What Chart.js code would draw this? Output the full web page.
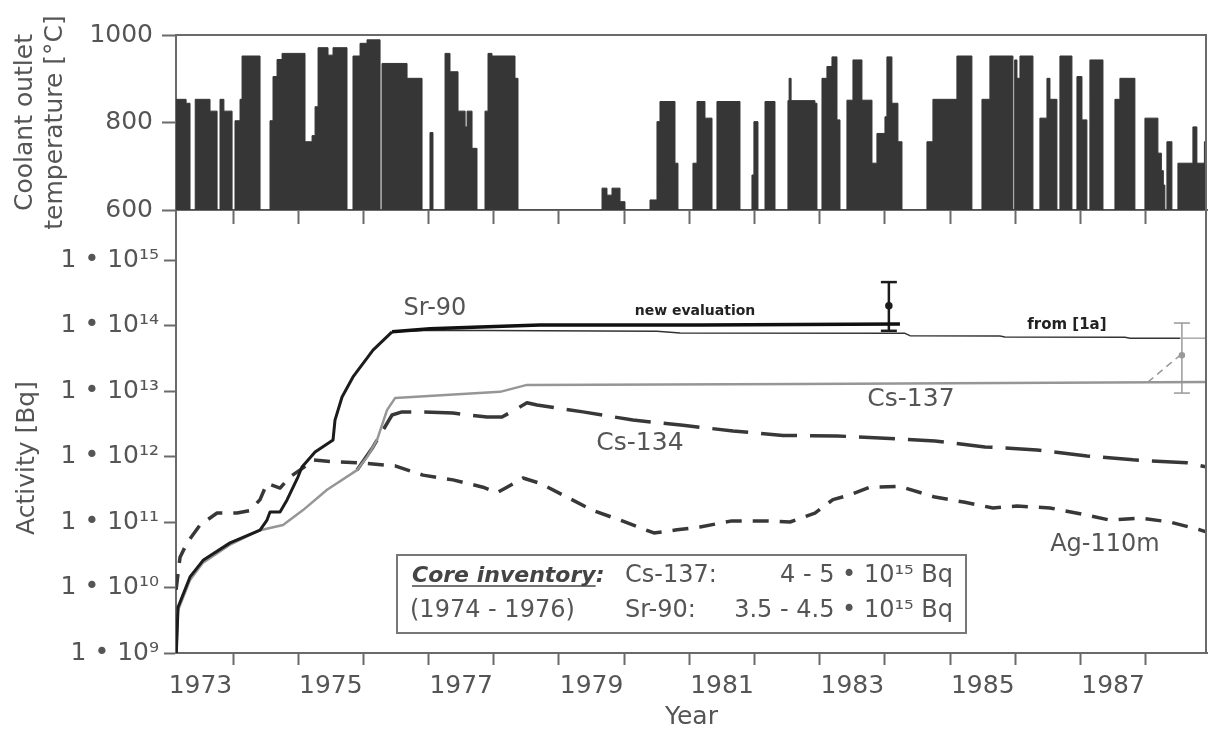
<!DOCTYPE html>
<html><head><meta charset="utf-8">
<script src="https://cdn.jsdelivr.net/npm/chart.js@4.4.0/dist/chart.umd.min.js"></script>
<style>
html,body{margin:0;padding:0;background:#fff;overflow:hidden}
#wrap{position:relative;width:1209px;height:733px}
canvas{position:absolute;left:0;top:0}
</style></head>
<body><div id="wrap"><canvas id="cBottom" width="1209" height="733"></canvas><canvas id="cTop" width="1209" height="733"></canvas></div>
<script>
// ---------- data ----------
const tempYears = [1973.125,1973.28,1973.34,1973.42,1973.647,1973.755,1973.80,1973.86,1973.985,1974.03,1974.107,1974.138,1974.414,1974.567,1974.613,1974.675,1974.752,1975.104,1975.212,1975.258,1975.304,1975.457,1975.534,1975.748,1975.840,1975.948,1976.055,1976.255,1976.285,1976.669,1976.899,1977.021,1977.067,1977.252,1977.328,1977.451,1977.56,1977.59,1977.666,1977.742,1977.865,1977.911,1977.972,1978.325,1978.371,1979.660,1979.736,1979.813,1979.936,1980.012,1980.396,1980.503,1980.549,1980.779,1980.825,1981.055,1981.117,1981.239,1981.347,1981.423,1981.776,1981.960,1981.99,1982.052,1982.160,1982.313,1982.512,1982.53,1982.56,1982.926,1982.957,1983.034,1983.110,1983.187,1983.264,1983.310,1983.417,1983.509,1983.647,1983.801,1983.877,1984.000,1984.03,1984.107,1984.199,1984.261,1984.644,1984.736,1985.104,1985.334,1985.488,1985.610,1985.963,1985.99,1986.025,1986.071,1986.270,1986.377,1986.485,1986.531,1986.638,1986.684,1986.868,1986.945,1987.022,1987.098,1987.144,1987.344,1987.528,1987.604,1987.834,1987.988,1988.187,1988.24,1988.27,1988.294,1988.325,1988.402,1988.494,1988.724,1988.785,1988.90,1988.94];
const tempValues = [853,844,600,853,826,600,853,826,600,804,853,952,600,804,905,944,958,756,770,836,971,954,971,600,952,981,989,600,935,901,600,777,600,958,916,826,790,826,741,600,826,958,952,901,600,650,634,650,619,600,623,802,848,707,600,707,848,810,600,848,600,680,802,600,848,600,850,901,850,844,600,901,928,950,806,600,851,943,851,707,775,813,950,844,756,600,756,853,952,600,853,952,600,943,901,952,600,810,901,853,600,952,600,905,806,600,943,600,853,901,600,810,730,690,657,600,756,600,707,790,707,756,756];

const sr90Years  = [1973.13,1973.156,1973.340,1973.540,1973.954,1974.414,1974.521,1974.567,1974.721,1974.828,1974.997,1975.058,1975.258,1975.534,1975.564,1975.672,1975.840,1976.147,1976.439];
const sr90Values = [1.0e9,5.0e9,1.45e10,2.6e10,4.8e10,7.5e10,1.07e11,1.42e11,1.42e11,2.17e11,4.9e11,6.9e11,1.17e12,1.79e12,3.6e12,8.1e12,1.64e13,4.2e13,8.0e13];

const sr90NewEvalYears  = [1976.439,1977.021,1977.788,1978.709,1981.163,1984.230];
const sr90NewEvalValues = [8.0e13,8.9e13,9.5e13,1.02e14,1.02e14,1.05e14];

const sr90Ref1aYears  = [1976.439,1977.021,1980.503,1980.856,1984.307,1984.383,1985.764,1985.84,1987.681,1987.76,1988.525];
const sr90Ref1aValues = [8.0e13,8.5e13,8.2e13,7.7e13,7.6e13,7.0e13,6.9e13,6.7e13,6.6e13,6.4e13,6.4e13];
const sr90ExtYears  = [1988.525,1988.94];
const sr90ExtValues = [6.4e13,6.4e13];

const cs137Years  = [1973.13,1973.156,1973.340,1973.540,1973.954,1974.414,1974.767,1975.074,1975.442,1975.902,1976.055,1976.209,1976.362,1976.485,1978.095,1978.509,1982.696,1988.94];
const cs137Values = [1.0e9,4.5e9,1.3e10,2.4e10,4.5e10,7.5e10,9.0e10,1.52e11,3.1e11,6.2e11,9.8e11,1.8e12,5.1e12,7.8e12,9.7e12,1.24e13,1.28e13,1.37e13];

const cs134Years  = [1975.902,1976.147,1976.439,1976.592,1976.868,1977.374,1977.896,1978.126,1978.509,1978.663,1979.368,1980.135,1980.902,1981.669,1982.436,1983.264,1984.000,1984.767,1985.534,1986.331,1987.098,1987.804,1988.632,1988.94];
const cs134Values = [6.2e11,1.4e12,4.3e12,4.8e12,4.8e12,4.6e12,4.0e12,4.0e12,6.6e12,6.1e12,4.8e12,3.6e12,3.0e12,2.45e12,2.1e12,2.06e12,1.9e12,1.73e12,1.4e12,1.26e12,1.02e12,8.9e11,8.0e11,6.9e11];

const ag110mYears  = [1973.126,1973.187,1973.294,1973.494,1973.755,1974.061,1974.261,1974.414,1974.521,1974.721,1974.874,1975.074,1975.227,1975.534,1975.948,1976.485,1976.914,1977.374,1977.834,1978.049,1978.202,1978.448,1978.709,1979.123,1979.521,1979.936,1980.457,1980.810,1981.163,1981.653,1982.129,1982.543,1982.926,1983.202,1983.463,1983.770,1984.230,1984.767,1985.227,1985.656,1986.025,1986.531,1987.022,1987.451,1987.911,1988.371,1988.831,1988.94];
const ag110mValues = [9.2e9,2.9e10,4.8e10,9.0e10,1.37e11,1.37e11,1.5e11,2.2e11,3.9e11,3.3e11,4.9e11,6.7e11,8.9e11,8.3e11,8.0e11,7.2e11,5.2e11,4.4e11,3.4e11,2.8e11,3.4e11,4.7e11,3.9e11,2.4e11,1.5e11,1.07e11,6.8e10,7.6e10,8.4e10,1.04e11,1.04e11,1.0e11,1.37e11,2.2e11,2.6e11,3.4e11,3.5e11,2.4e11,2.0e11,1.64e11,1.75e11,1.64e11,1.32e11,1.07e11,1.15e11,1.0e11,7.6e10,7.0e10];

// error bars: [low, mid, high]
const srErrYear = 1984.06;
const srErrValues = [8.3e13, 2.0e14, 4.6e14];
const csErrYear = 1988.555;
const csErrValues = [9.3e12, 3.5e13, 1.09e14];
const csLinkYears  = [1988.034, 1988.525];
const csLinkValues = [1.37e13, 3.5e13];

const xLabelYears = [1973,1975,1977,1979,1981,1983,1985,1987];
const xTickYears = [1974,1975,1976,1977,1978,1979,1980,1981,1982,1983,1984,1985,1986,1987,1988];
const yTickExponents = [9,10,11,12,13,14,15];
const tempTicks = [600,800,1000];

// ---------- helpers ----------
const FONT = '"DejaVu Sans", sans-serif';
const TXT = '#555';
const AXIS = '#6a6a6a';
const XMIN = 1973.125, XMAX = 1988.94;
const pts = (xs, ys) => xs.map((x, i) => ({x, y: ys[i]}));
const SUP = {'0':'⁰','1':'¹','2':'²','3':'³','4':'⁴','5':'⁵','6':'⁶','7':'⁷','8':'⁸','9':'⁹'};
const sup = n => String(n).split('').map(c => SUP[c]).join('');

const seriesLabels = [
  {text:'Sr-90', x:1977.098, y:1.79e14, font:'24px '+FONT, color:TXT},
  {text:'Cs-137', x:1984.399, y:7.3e12, font:'25px '+FONT, color:TXT},
  {text:'Cs-134', x:1980.242, y:1.6e12, font:'25px '+FONT, color:TXT},
  {text:'Ag-110m', x:1987.374, y:4.5e10, font:'24px '+FONT, color:TXT},
  {text:'new evaluation', x:1981.086, y:1.66e14, font:'bold 14px '+FONT, color:'#222'},
  {text:'from [1a]', x:1986.791, y:1.02e14, font:'bold 15px '+FONT, color:'#222'}
];

Chart.defaults.font.family = FONT;
Chart.defaults.animation = false;

const fixX = h => s => { s.height = h; s.paddingLeft = 0; s.paddingRight = 0; };
const fixY = w => s => { s.width = w; s.paddingTop = 0; s.paddingBottom = 0; };

// ---------- bottom chart ----------
const bottomPlugin = {
  id: 'bottomAnnot',
  afterDatasetsDraw(chart) {
    const {ctx, scales:{x, y}, chartArea} = chart;
    ctx.save();
    ctx.strokeStyle = AXIS; ctx.lineWidth = 2;
    ctx.beginPath(); ctx.moveTo(chartArea.right - 1, chartArea.top); ctx.lineTo(chartArea.right - 1, chartArea.bottom); ctx.stroke();
    ctx.textAlign = 'center'; ctx.textBaseline = 'middle';
    seriesLabels.forEach(l => {
      ctx.font = l.font; ctx.fillStyle = l.color;
      ctx.fillText(l.text, x.getPixelForValue(l.x), y.getPixelForValue(l.y));
    });
    // core inventory box
    ctx.fillStyle = '#fff'; ctx.fillRect(397, 555, 569, 78);
    ctx.strokeStyle = '#777'; ctx.lineWidth = 2; ctx.strokeRect(397, 555, 569, 78);
    ctx.textBaseline = 'alphabetic';
    ctx.textAlign = 'left'; ctx.fillStyle = '#444';
    ctx.font = 'italic bold 22px ' + FONT;
    ctx.fillText('Core inventory:', 412, 582);
    const w = ctx.measureText('Core inventory').width;
    ctx.strokeStyle = '#444'; ctx.lineWidth = 1.5;
    ctx.beginPath(); ctx.moveTo(412, 586); ctx.lineTo(412 + w, 586); ctx.stroke();
    ctx.fillStyle = TXT; ctx.font = '24px ' + FONT;
    ctx.fillText('Cs-137:', 625, 582);
    ctx.fillText('(1974 - 1976)', 410, 617);
    ctx.fillText('Sr-90:', 625, 617);
    ctx.textAlign = 'right';
    ctx.fillText('4 - 5 • 10' + sup(15) + ' Bq', 953, 582);
    ctx.fillText('3.5 - 4.5 • 10' + sup(15) + ' Bq', 953, 617);
    // y title
    ctx.textAlign = 'center'; ctx.textBaseline = 'middle';
    ctx.font = '25px ' + FONT;
    ctx.translate(27, 458); ctx.rotate(-Math.PI / 2);
    ctx.fillText('Activity [Bq]', 0, 0);
    ctx.restore();
  }
};

const lineDs = (label, xs, ys, color, width, dash) => ({
  label, data: pts(xs, ys), borderColor: color, borderWidth: width,
  borderDash: dash || [], pointRadius: 0, tension: 0, fill: false,
  borderJoinStyle: 'round', borderCapStyle: 'butt'
});

const errDs = (label, xv, vals, color, width, r) => ({
  label, data: vals.map(v => ({x: xv, y: v})), borderColor: color, backgroundColor: color,
  borderWidth: width, pointStyle: ['line', 'circle', 'line'], pointRadius: [r, 2.5, r],
  pointBorderWidth: width, pointBorderColor: color, pointBackgroundColor: color, fill: false, tension: 0
});

new Chart(document.getElementById('cBottom'), {
  type: 'line',
  data: { datasets: [
    lineDs('Sr-90', sr90Years, sr90Values, '#1c1c1c', 3),
    lineDs('Sr-90 new evaluation', sr90NewEvalYears, sr90NewEvalValues, '#111', 3.5),
    lineDs('Sr-90 from [1a]', sr90Ref1aYears, sr90Ref1aValues, '#333', 1.5),
    lineDs('Sr-90 from [1a] ext', sr90ExtYears, sr90ExtValues, '#aaa', 1.5),
    lineDs('Cs-137', cs137Years, cs137Values, '#969696', 2.5),
    lineDs('Cs-134', cs134Years, cs134Values, '#383838', 3.5, [36, 13]),
    lineDs('Ag-110m', ag110mYears, ag110mValues, '#383838', 3.5, [16, 11]),
    lineDs('Cs-137 link', csLinkYears, csLinkValues, '#999', 1.5, [7, 5]),
    errDs('Sr-90 error', srErrYear, srErrValues, '#1c1c1c', 2.5, 8),
    errDs('Cs-137 error', csErrYear, csErrValues, '#999', 1.5, 8)
  ]},
  options: {
    responsive: false, devicePixelRatio: 1, animation: false, events: [],
    layout: { autoPadding: false, padding: { top: 210, right: 2, left: 0, bottom: 0 } },
    plugins: { legend: { display: false }, tooltip: { enabled: false } },
    scales: {
      x: {
        type: 'linear', min: XMIN, max: XMAX,
        afterBuildTicks: s => {
          const t = xTickYears.map(v => ({value: v})).concat(xLabelYears.map(v => ({value: v + 0.5})));
          t.sort((a, b) => a.value - b.value);
          s.ticks = t;
        },
        ticks: {
          autoSkip: false, maxRotation: 0, minRotation: 0, padding: 6,
          color: TXT, font: { size: 25, family: FONT },
          callback: v => Number.isInteger(v) ? '' : String(v - 0.5)
        },
        grid: {
          drawOnChartArea: false, drawTicks: true, tickLength: 12, tickWidth: 2,
          tickColor: c => (c.tick && Number.isInteger(c.tick.value)) ? AXIS : 'rgba(0,0,0,0)'
        },
        border: { display: true, color: AXIS, width: 2 },
        title: { display: true, text: 'Year', color: TXT, font: { size: 25, family: FONT }, padding: { top: 0, bottom: 1 } },
        afterFit: fixX(80)
      },
      y: {
        type: 'logarithmic', min: 1e9, max: 5.8e15,
        afterBuildTicks: s => { s.ticks = yTickExponents.map(e => ({value: Math.pow(10, e)})); },
        ticks: {
          autoSkip: false, padding: 5, color: TXT, font: { size: 25, family: FONT },
          callback: v => '1 • 10' + sup(Math.round(Math.log10(v)))
        },
        grid: { drawOnChartArea: false, drawTicks: true, tickLength: 12, tickWidth: 2, tickColor: AXIS },
        border: { display: true, color: AXIS, width: 2 },
        afterFit: fixY(176)
      }
    }
  },
  plugins: [bottomPlugin]
});

// ---------- top chart ----------
const topPlugin = {
  id: 'topFrame',
  afterDraw(chart) {
    const {ctx, chartArea} = chart;
    ctx.save();
    ctx.strokeStyle = AXIS; ctx.lineWidth = 2;
    ctx.beginPath();
    ctx.moveTo(chartArea.left, chartArea.top); ctx.lineTo(chartArea.right - 1, chartArea.top);
    ctx.lineTo(chartArea.right - 1, chartArea.bottom);
    ctx.stroke();
    ctx.restore();
  }
};

new Chart(document.getElementById('cTop'), {
  type: 'line',
  data: { datasets: [{
    label: 'Coolant outlet temperature',
    data: pts(tempYears, tempValues),
    stepped: 'before', fill: 'start',
    backgroundColor: '#363636', borderColor: '#363636', borderWidth: 1,
    pointRadius: 0, tension: 0
  }]},
  options: {
    responsive: false, devicePixelRatio: 1, animation: false, events: [],
    layout: { autoPadding: false, padding: { top: 35, right: 2, left: 0, bottom: 0 } },
    plugins: { legend: { display: false }, tooltip: { enabled: false } },
    scales: {
      x: {
        type: 'linear', min: XMIN, max: XMAX,
        afterBuildTicks: s => { s.ticks = xTickYears.map(v => ({value: v})); },
        ticks: { autoSkip: false, maxRotation: 0, callback: () => '' },
        grid: { drawOnChartArea: false, drawTicks: true, tickLength: 14, tickWidth: 2, tickColor: AXIS },
        border: { display: true, color: AXIS, width: 2 },
        afterFit: fixX(523)
      },
      y: {
        type: 'linear', min: 600, max: 1000,
        afterBuildTicks: s => { s.ticks = tempTicks.map(v => ({value: v})); },
        ticks: { padding: 9, color: TXT, font: { size: 25, family: FONT }, callback: v => String(v) },
        grid: { drawOnChartArea: false, drawTicks: true, tickLength: 14, tickWidth: 2, tickColor: AXIS },
        border: { display: true, color: AXIS, width: 2 },
        title: {
          display: true, text: ['Coolant outlet', 'temperature [°C]'], color: TXT,
          font: { size: 25, family: FONT, lineHeight: 1.2 }, padding: { top: 10, bottom: 0 }
        },
        afterFit: fixY(176)
      }
    }
  },
  plugins: [topPlugin]
});
</script>
</body></html>
